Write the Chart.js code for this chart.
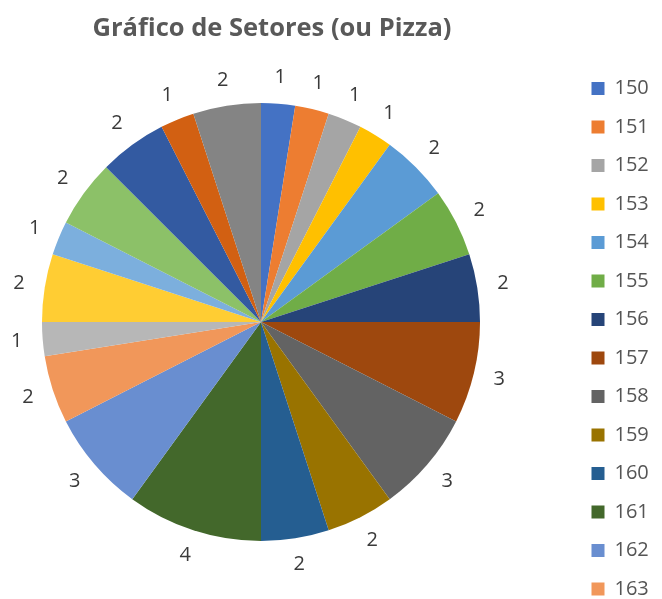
<!DOCTYPE html>
<html>
<head>
<meta charset="utf-8">
<script src="https://cdn.jsdelivr.net/npm/chart.js@4/dist/chart.umd.min.js"></script>
<style>
  body { margin: 0; background: #fff; }
</style>
</head>
<body>
<canvas id="chart" width="662" height="599"></canvas>
<script>
// Values
const categories = ["150", "151", "152", "153", "154", "155", "156", "157", "158", "159", "160",
  "161", "162", "163", "164", "165", "166", "167", "168", "169", "170"];
const counts = [1, 1, 1, 1, 2, 2, 2, 3, 3, 2, 2, 4, 3, 2, 1, 2, 1, 2, 2, 1, 2];

// Excel-like palette, one per slice
const sliceColors = [
  "#4472C4", "#ED7D31", "#A5A5A5", "#FFC000", "#5B9BD5", "#70AD47",
  "#264478", "#9E480E", "#636363", "#997300", "#255E91", "#43682B",
  "#698ED0", "#F1975A", "#B7B7B7", "#FFCD33", "#7CAFDD", "#8CC168",
  "#335AA1", "#D26012", "#848484"
];

// the legend in the original is cut after 163
const legendCount = 14;

const font = "'Open Sans', 'DejaVu Sans', sans-serif";

// put title, pie and legend where the original has them
const placeBoxes = {
  id: "placeBoxes",
  afterLayout(chart) {
    const ca = chart.chartArea;
    ca.left = 42; ca.right = 480; ca.top = 103; ca.bottom = 541;
    ca.width = ca.right - ca.left;
    ca.height = ca.bottom - ca.top;

    const t = chart.titleBlock;
    const th = t.height;
    t.left = 0; t.right = 544; t.top = 16; t.bottom = 16 + th;

    const lg = chart.legend;
    const lw = lg.width, lh = lg.height;
    lg.left = 573; lg.right = 573 + lw;
    lg.top = 60; lg.bottom = 60 + lh;
  }
};

// value labels outside each slice
const sliceLabels = {
  id: "sliceLabels",
  afterDatasetsDraw(chart) {
    const ctx = chart.ctx;
    const meta = chart.getDatasetMeta(0);
    ctx.save();
    ctx.font = "20px " + font;
    ctx.fillStyle = "#3a3a3a";
    ctx.textAlign = "center";
    ctx.textBaseline = "middle";
    meta.data.forEach((arc, i) => {
      const p = arc.getProps(["x", "y", "startAngle", "endAngle", "outerRadius"], true);
      const mid = (p.startAngle + p.endAngle) / 2;
      const r = p.outerRadius + 26;
      ctx.fillText(String(counts[i]), p.x + Math.cos(mid) * r, p.y + Math.sin(mid) * r);
    });
    ctx.restore();
  }
};

new Chart(document.getElementById("chart"), {
  type: "pie",
  data: {
    labels: categories,
    datasets: [{
      data: counts,
      backgroundColor: sliceColors,
      borderWidth: 0
    }]
  },
  options: {
    responsive: false,
    animation: false,
    layout: { padding: 0 },
    plugins: {
      title: {
        display: true,
        text: "Gráfico de Setores (ou Pizza)",
        color: "#595959",
        font: { family: font, size: 25.5, weight: "bold", lineHeight: 1 },
        padding: 0
      },
      legend: {
        position: "right",
        align: "start",
        labels: {
          color: "#555555",
          font: { family: font, size: 20 },
          boxWidth: 13,
          boxHeight: 13,
          padding: 18.5,
          filter: (item) => item.index < legendCount
        }
      },
      tooltip: { enabled: false }
    }
  },
  plugins: [placeBoxes, sliceLabels]
});
</script>
</body>
</html>
